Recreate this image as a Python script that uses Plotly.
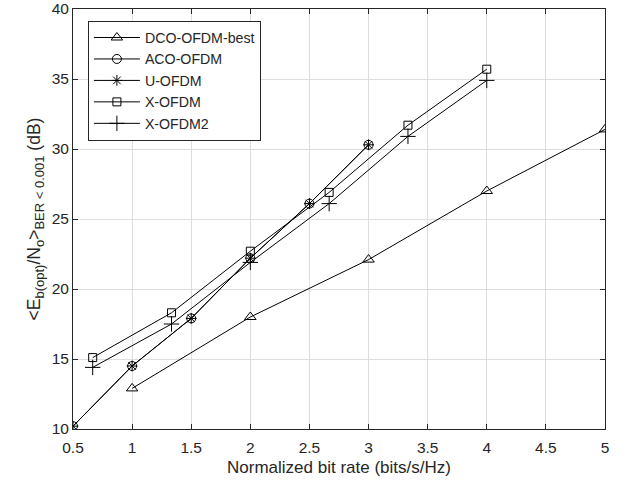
import plotly.graph_objects as go

# Normalized bit rate (bits/s/Hz) for each scheme
rate_dco = [1, 2, 3, 4, 5]
rate_aco = [0.5, 1, 1.5, 2, 2.5, 3]
rate_u = [0.5, 1, 1.5, 2, 2.5, 3]
rate_x = [2/3, 4/3, 2, 8/3, 10/3, 4]
rate_x2 = [2/3, 4/3, 2, 8/3, 10/3, 4]

# Required Eb/No (dB) at BER < 0.001
ebno_dco = [12.9, 18.0, 22.1, 27.0, 31.4]
ebno_aco = [10.2, 14.5, 17.9, 22.2, 26.1, 30.3]
ebno_u = [10.2, 14.5, 17.9, 22.2, 26.1, 30.3]
ebno_x = [15.1, 18.3, 22.7, 26.9, 31.7, 35.7]
ebno_x2 = [14.4, 17.5, 21.9, 26.1, 30.9, 34.9]

x_ticks = [0.5, 1, 1.5, 2, 2.5, 3, 3.5, 4, 4.5, 5]
x_ticktext = ["0.5", "1", "1.5", "2", "2.5", "3", "3.5", "4", "4.5", "5"]

series = [
    ("DCO-OFDM-best", rate_dco, ebno_dco, "triangle-up-open", 10),
    ("ACO-OFDM", rate_aco, ebno_aco, "circle-open", 9),
    ("U-OFDM", rate_u, ebno_u, "asterisk-open", 9),
    ("X-OFDM", rate_x, ebno_x, "square-open", 8),
    ("X-OFDM2", rate_x2, ebno_x2, "cross-thin-open", 11),
]

fig = go.Figure()
for name, xs, ys, sym, size in series:
    fig.add_trace(go.Scatter(
        x=xs, y=ys, name=name, mode="lines+markers",
        line=dict(color="black", width=1),
        marker=dict(symbol=sym, size=size, color="black",
                    line=dict(color="black", width=1)),
    ))

axis_common = dict(
    showgrid=True, gridcolor="#dedede", gridwidth=1,
    showline=True, linecolor="#262626", linewidth=1, mirror="ticks",
    ticks="inside", ticklen=5, tickcolor="#262626",
    tickfont=dict(family="Liberation Sans, Arial", size=15.5, color="#262626"),
    zeroline=False, automargin=False,
)

sub = '<sub><span style="font-size:13px">{}</span></sub>'
y_title = ("&lt;E" + sub.format("b(opt)") + "/N" + sub.format("o")
           + "&gt;" + sub.format("BER &lt; 0.001") + " (dB)")

fig.update_layout(
    width=624, height=485,
    margin=dict(l=73, r=19, t=9, b=56),
    paper_bgcolor="white", plot_bgcolor="white",
    font=dict(family="Liberation Sans, Arial", color="#262626"),
    xaxis=dict(range=[0.5, 5], tickvals=x_ticks, ticktext=x_ticktext,
               ticklabelstandoff=4,
               title=dict(text="Normalized bit rate (bits/s/Hz)",
                          font=dict(size=17), standoff=6),
               **axis_common),
    yaxis=dict(range=[10, 40], dtick=5,
               title=dict(text=y_title, font=dict(size=17.5), standoff=6),
               **axis_common),
    legend=dict(x=0.028, y=0.972, xanchor="left", yanchor="top",
                bgcolor="white", bordercolor="#262626", borderwidth=1,
                font=dict(size=14.2, color="#262626"),
                itemwidth=46, tracegroupgap=0),
    showlegend=True,
)

fig.write_html("out.html")
